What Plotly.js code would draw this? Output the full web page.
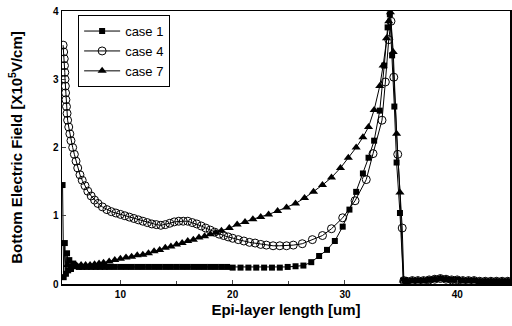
<!DOCTYPE html>
<html><head><meta charset="utf-8">
<script src="https://cdn.plot.ly/plotly-3.0.1.min.js"></script>
<style>html,body{margin:0;padding:0;background:#fff}#c{width:512px;height:326px}</style>
</head><body><div id="c"></div>
<script>
const tailX = [35.5,36.0,36.5,37.0,37.5,38.0,38.5,39.0,39.5,40.0,40.5,41.0,41.5,42.0,42.5,43.0,43.5,44.0,44.5];
const tailY = [0.04,0.05,0.05,0.05,0.06,0.07,0.08,0.07,0.06,0.06,0.05,0.05,0.05,0.04,0.04,0.04,0.04,0.04,0.04];

const case1X = [4.85,4.95,5.05,5.15,5.25,5.35,5.45,5.6,5.8,6.0,6.3,6.6,7.0,7.4,7.8,8.2,8.6,9.0,9.5,10.0,10.5,11.0,11.5,12.0,12.5,13.0,13.5,14.0,14.5,15.0,15.5,16.0,16.5,17.0,17.5,18.0,18.5,19.0,19.5,20.0,20.7,21.4,22.1,22.8,23.5,24.2,24.9,25.6,26.3,27.0,27.7,28.4,29.1,29.8,30.4,31.0,31.6,32.1,32.6,33.1,33.5,33.8,34.0,34.2,34.4,34.6,34.9,35.2];
const case1Y = [1.45,0.1,0.6,0.15,0.45,0.2,0.35,0.22,0.3,0.26,0.25,0.25,0.25,0.25,0.25,0.25,0.25,0.25,0.25,0.25,0.25,0.25,0.25,0.25,0.25,0.25,0.25,0.25,0.25,0.25,0.25,0.25,0.25,0.25,0.25,0.25,0.25,0.25,0.25,0.24,0.24,0.24,0.24,0.24,0.24,0.24,0.25,0.26,0.27,0.32,0.41,0.5,0.63,0.84,1.09,1.35,1.62,1.85,2.1,2.54,3.2,3.76,3.95,3.35,2.6,1.78,1.04,0.05];

const case4X = [4.9,4.95,5.0,5.02,5.05,5.07,5.1,5.12,5.15,5.2,5.25,5.3,5.4,5.5,5.6,5.75,5.9,6.05,6.2,6.4,6.6,6.85,7.1,7.4,7.7,8.0,8.4,8.8,9.2,9.6,10.0,10.4,10.8,11.2,11.6,12.0,12.4,12.8,13.2,13.6,14.0,14.4,14.8,15.2,15.6,16.0,16.4,16.8,17.2,17.6,18.0,18.4,18.8,19.2,19.6,20.0,20.5,21.0,21.5,22.0,22.5,23.0,23.6,24.2,24.8,25.4,26.2,27.1,28.0,28.8,29.8,30.9,31.9,32.5,33.3,33.6,33.9,34.1,34.35,34.7,35.1,35.25];
const case4Y = [3.5,3.4,3.3,3.2,3.1,3.0,2.9,2.8,2.7,2.6,2.5,2.4,2.3,2.2,2.1,2.0,1.9,1.8,1.7,1.6,1.52,1.44,1.36,1.29,1.23,1.18,1.13,1.09,1.06,1.04,1.02,1.0,0.98,0.96,0.94,0.92,0.9,0.88,0.87,0.86,0.87,0.89,0.91,0.92,0.92,0.92,0.9,0.88,0.85,0.82,0.79,0.76,0.73,0.71,0.69,0.67,0.65,0.63,0.61,0.6,0.58,0.57,0.56,0.56,0.56,0.57,0.59,0.65,0.71,0.81,0.97,1.22,1.53,1.91,2.4,2.96,3.58,3.85,3.03,1.9,0.82,0.05];

const case7X = [5.3,5.7,6.1,6.5,6.9,7.3,7.7,8.1,8.5,9.0,9.5,10.0,10.5,11.0,11.5,12.0,12.5,13.0,13.5,14.0,14.5,15.0,15.5,16.0,16.5,17.0,17.5,18.0,18.5,19.0,19.7,20.4,21.1,21.8,22.5,23.2,24.0,24.8,25.6,26.4,27.2,28.0,28.8,29.6,30.3,31.0,31.6,32.1,32.6,33.1,33.4,33.7,33.9,34.05,34.3,34.6,34.9,35.2];
const case7Y = [0.28,0.27,0.27,0.28,0.28,0.28,0.29,0.3,0.31,0.33,0.35,0.37,0.39,0.4,0.42,0.43,0.45,0.48,0.5,0.53,0.55,0.58,0.6,0.63,0.65,0.68,0.7,0.73,0.75,0.78,0.82,0.87,0.91,0.95,0.98,1.02,1.07,1.12,1.18,1.26,1.35,1.45,1.56,1.7,1.85,2.0,2.15,2.3,2.55,2.9,3.2,3.6,3.85,3.98,3.4,2.2,1.34,0.05];

const xTicks = [10,20,30,40];
const yTicks = [0,1,2,3,4];

const line = {color:'black', width:1};
const traces = [
  {name:'case 1', x:case1X.concat(tailX), y:case1Y.concat(tailY), mode:'lines+markers',
   line:line, marker:{symbol:'square', size:6, color:'black'}},
  {name:'case 4', x:case4X.concat(tailX), y:case4Y.concat(tailY), mode:'lines+markers',
   line:line, marker:{symbol:'circle-open', size:8, color:'black', line:{width:1}}},
  {name:'case 7', x:case7X.concat(tailX), y:case7Y.concat(tailY), mode:'lines+markers',
   line:line, marker:{symbol:'triangle-up', size:8, color:'black'}}
];

const layout = {
  width:512, height:326,
  margin:{l:62, r:2, t:11, b:42},
  paper_bgcolor:'white', plot_bgcolor:'white',
  font:{family:'Liberation Sans, Arial, sans-serif', color:'black'},
  showlegend:true,
  legend:{x:0.036, y:0.985, xanchor:'left', yanchor:'top', bgcolor:'white',
          bordercolor:'black', borderwidth:1, font:{size:13, color:'black'},
          tracegroupgap:0, itemwidth:36},
  xaxis:{range:[4.8,44.7], tickvals:xTicks, ticktext:xTicks.map(String), ticks:'inside', ticklen:4,
         showgrid:false, zeroline:false, showline:true, linecolor:'black', linewidth:1.5, mirror:true,
         tickfont:{size:10, family:'Liberation Sans, Arial', weight:'bold'},
         minor:{tickvals:[15,25,35], ticks:'inside', ticklen:3},
         title:{text:'Epi-layer length [um]', font:{size:15, family:'Liberation Sans, Arial', weight:'bold'}, standoff:6}},
  yaxis:{range:[0,4], tickvals:yTicks, ticktext:yTicks.map(String), ticks:'inside', ticklen:4,
         showgrid:false, zeroline:false, showline:true, linecolor:'black', linewidth:1.5, mirror:true,
         tickfont:{size:10, family:'Liberation Sans, Arial', weight:'bold'},
         title:{text:'Bottom Electric Field [X10<sup>5</sup>V/cm]', font:{size:15, family:'Liberation Sans, Arial', weight:'bold'}, standoff:26}}
};
Plotly.newPlot('c', traces, layout, {displayModeBar:false, staticPlot:true});
</script></body></html>
